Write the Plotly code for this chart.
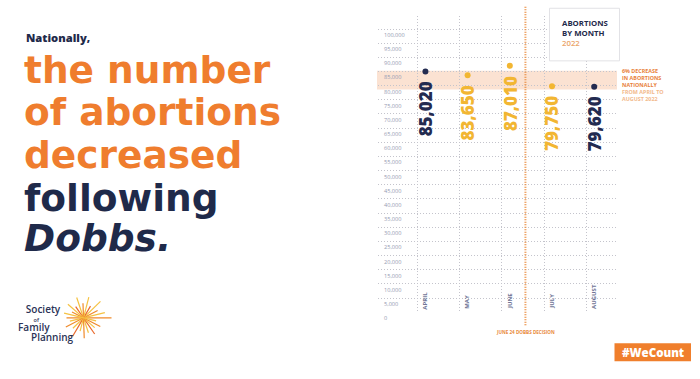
import math
import plotly.graph_objects as go

# ---------------- data ----------------
months = ["APRIL", "MAY", "JUNE", "JULY", "AUGUST"]
abortions = [85020, 83650, 87010, 79750, 79620]
month_colors = ["#232b50", "#f2b632", "#f2b632", "#f2b632", "#232b50"]
ytick_vals = [0, 5000, 10000, 15000, 20000, 25000, 30000, 35000, 40000, 45000, 50000,
              55000, 60000, 65000, 70000, 75000, 80000, 85000, 90000, 95000, 100000]
band_range = [78600, 85300]
dobbs_label = "JUNE 24 DOBBS DECISION"
headline_orange = ["the number", "of abortions", "decreased"]
headline_navy = ["following", "<i>Dobbs.</i>"]
note_lines_dark = ["6% DECREASE", "IN ABORTIONS", "NATIONALLY"]
note_lines_light = ["FROM APRIL TO", "AUGUST 2022"]
box_title = ["ABORTIONS", "BY MONTH"]
box_year = "2022"
logo_words = ["Society", "of", "Family", "Planning"]

# ---------------- style constants ----------------
W, H = 700, 379
NAVY = "#1f2a4a"
ORANGE = "#ef7d2e"
GRID = "#c4c4cc"
DOT_OFFSET = 0.19
DOBBS_X = 2.56


def px(x):
    return x / W


def py(y):
    return 1 - y / H


fig = go.Figure()

fig.add_trace(go.Scatter(
    x=[i + DOT_OFFSET for i in range(len(months))],
    y=abortions,
    mode="markers",
    marker=dict(size=6, color=month_colors),
    hoverinfo="skip",
))

shapes = []
annotations = []

# highlighted band
shapes.append(dict(type="rect", xref="paper", yref="y", x0=px(377), x1=px(617),
                   y0=band_range[0], y1=band_range[1], fillcolor="#fbe2d2",
                   line=dict(width=0), layer="below"))

# Dobbs decision line
shapes.append(dict(type="line", xref="x", yref="paper", x0=DOBBS_X, x1=DOBBS_X,
                   y0=py(334), y1=py(6.5), line=dict(color="#e98a3c", width=2, dash="1px,1.5px"),
                   layer="above"))
annotations.append(dict(text="<b>" + dobbs_label + "</b>", x=DOBBS_X, xref="x",
                        y=py(340.5), yref="paper", showarrow=False, xanchor="center",
                        yanchor="middle", font=dict(family="Open Sans", size=4.6, color="#e98a3c")))

# value labels and month labels
for i, (m, v, c) in enumerate(zip(months, abortions, month_colors)):
    annotations.append(dict(text=f"{v:,}", x=i + DOT_OFFSET, y=v, xref="x", yref="y",
                            textangle=-90, showarrow=False, xanchor="center", yanchor="top",
                            yshift=-8,
                            font=dict(family="Open Sans", size=17, color=c, weight=800)))
    annotations.append(dict(text=f"<b>{m}</b>", x=i, y=0, xref="x", yref="y",
                            textangle=-90, showarrow=False, xanchor="left", yanchor="bottom",
                            xshift=2, yshift=1,
                            font=dict(family="Open Sans", size=6, color="#6f7595")))

# legend box
shapes.append(dict(type="rect", xref="paper", yref="paper", x0=px(549.5), x1=px(619.5),
                   y0=py(62.5), y1=py(8.5), fillcolor="white",
                   line=dict(color="#e2e2e6", width=1), layer="above"))
box_text = "<b>" + "<br>".join(box_title) + "</b><br><span style='color:#eba46a'>" + box_year + "</span>"
annotations.append(dict(text=box_text, x=px(560), y=py(33.8), xref="paper", yref="paper",
                        showarrow=False, xanchor="left", yanchor="middle", align="left",
                        font=dict(family="Open Sans", size=7.8, color=NAVY, weight=600)))

# side note
note_text = ("<span style='color:#e8813a'>" + "<br>".join(note_lines_dark) + "</span><br>"
             + "<span style='color:#f2b98c'>" + "<br>".join(note_lines_light) + "</span>")
annotations.append(dict(text="<b>" + note_text + "</b>", x=px(620), y=py(87.4), xref="paper",
                        yref="paper", showarrow=False, xanchor="left", yanchor="middle",
                        align="left", font=dict(family="Open Sans", size=5.4, color="#e8813a")))

# headline
annotations.append(dict(text="Nationally,", x=px(24), y=py(38.5), xref="paper", yref="paper",
                        showarrow=False, xanchor="left", yanchor="middle",
                        font=dict(family="Open Sans", size=11.2, color=NAVY, weight=800)))
head_centers = [71.5, 115.5, 159, 203, 244]
for txt, yy in zip(headline_orange + headline_navy, head_centers):
    col = ORANGE if txt in headline_orange else NAVY
    annotations.append(dict(text="<b>" + txt + "</b>", x=px(22), y=py(yy), xref="paper",
                            yref="paper", showarrow=False, xanchor="left", yanchor="middle",
                            font=dict(family="DejaVu Sans", size=37.5, color=col)))

# logo text (one block, indented lines)
big = "<span style='font-size:10px'>{}</span>"
nb = "&nbsp;"
logo_text = "<br>".join([
    big.format(nb * 3 + logo_words[0]),
    big.format(nb * 6) + "<span style='font-size:5.5px'>" + logo_words[1] + "</span>",
    big.format(logo_words[2]),
    big.format(nb * 5 + logo_words[3]),
])
annotations.append(dict(text=logo_text, x=px(16), y=py(331.5), xref="paper", yref="paper",
                        showarrow=False, xanchor="left", yanchor="middle", align="left",
                        font=dict(family="Open Sans", size=7.1, color="#2b3356", weight=600)))

# logo starburst
cx, cy = 83.5, 326.5
rays = [(0, 17, 28, "#f08a2a"), (14, 14, 22, "#f5c242"), (28, 20, 16, "#f08a2a"),
        (45, 15, 24, "#f5c242"), (60, 22, 14, "#e9682a"), (76, 14, 22, "#f5c242"),
        (92, 21, 15, "#f08a2a"), (108, 16, 22, "#f5c242"), (124, 20, 14, "#e9682a"),
        (138, 15, 21, "#f5c242"), (152, 19, 13, "#f08a2a"), (166, 13, 20, "#f5c242")]
for ang, la, lb, col in rays:
    a = math.radians(ang)
    x0, y0 = cx - la * math.cos(a), cy + la * math.sin(a)
    x1, y1 = cx + lb * math.cos(a), cy - lb * math.sin(a)
    shapes.append(dict(type="line", xref="paper", yref="paper", x0=px(x0), y0=py(y0),
                       x1=px(x1), y1=py(y1), line=dict(color=col, width=1.2)))

# #WeCount button
shapes.append(dict(type="rect", xref="paper", yref="paper", x0=px(614.5), x1=px(691),
                   y0=py(371), y1=py(352.5), fillcolor="#f07f2c", line=dict(width=0)))
annotations.append(dict(text="#WeCount", x=px(652.8), y=py(361.8), xref="paper", yref="paper",
                        showarrow=False, xanchor="center", yanchor="middle",
                        font=dict(family="Open Sans", size=11.5, color="white", weight=800)))

fig.update_layout(
    width=W, height=H, autosize=False,
    margin=dict(l=0, r=0, t=0, b=0),
    paper_bgcolor="white", plot_bgcolor="rgba(0,0,0,0)",
    showlegend=False,
    shapes=shapes, annotations=annotations,
    xaxis=dict(domain=[px(378), px(617)], range=[-0.934, 4.73],
               tickvals=list(range(len(months))), showticklabels=False,
               showgrid=True, gridcolor=GRID, griddash="1px,2px", gridwidth=1,
               zeroline=False, showline=False, ticks=""),
    yaxis=dict(domain=[py(320.7), py(16.7)], range=[0, 104500],
               tickvals=ytick_vals, tickformat=",d",
               ticklabelposition="inside", ticklabelshift=6, ticklabelstandoff=3,
               ticklabeloverflow="allow",
               tickfont=dict(family="Open Sans", size=5.6, color="#959bb2"),
               showgrid=True, gridcolor=GRID, griddash="1px,2px", gridwidth=1,
               zeroline=False, showline=False, ticks=""),
)

fig.write_html("out.html",
               post_script="document.body.style.margin='0';document.body.style.overflow='hidden';",
               config={"displayModeBar": False, "responsive": False})
